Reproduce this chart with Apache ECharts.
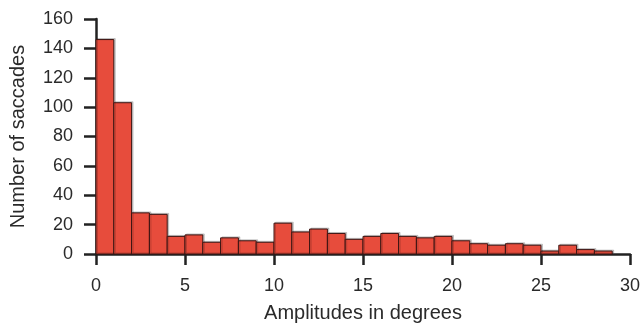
<!DOCTYPE html>
<html><head><meta charset="utf-8">
<script src="https://cdn.jsdelivr.net/npm/echarts@6/dist/echarts.min.js"></script>
<style>html,body{margin:0;padding:0;background:#fff}#c{width:644px;height:324px}</style>
</head><body><div id="c"></div>
<script>
var binStarts = [0,1,2,3,4,5,6,7,8,9,10,11,12,13,14,15,16,17,18,19,20,21,22,23,24,25,26,27,28];
var binWidth = 1;
var counts = [146,103,28,27,12,13,8,11,9,8,21,15,17,14,10,12,14,12,11,12,9,7,6,7,6,2,6,3,2];
var xTicks = [0,5,10,15,20,25,30];
var yTicks = [0,20,40,60,80,100,120,140,160];
var xTitle = 'Amplitudes in degrees';
var yTitle = 'Number of saccades';

var data = binStarts.map(function(s,i){return [s, s+binWidth, counts[i]];});
var chart = echarts.init(document.getElementById('c'));
var font = 'Liberation Sans, Arial, sans-serif';
chart.setOption({
  animation:false,
  grid:{left:96,right:14,top:19,bottom:70,containLabel:false,outerBoundsMode:'none'},
  xAxis:{type:'value',min:xTicks[0],max:xTicks[xTicks.length-1],interval:5,
    axisLine:{show:true,onZero:false,lineStyle:{color:'#222',width:2.5}},
    axisTick:{show:true,length:11,lineStyle:{color:'#222',width:2.5}},
    axisLabel:{color:'#2a2a2a',fontSize:18,fontFamily:font,margin:23},
    splitLine:{show:false},
    name:xTitle,nameLocation:'middle',nameGap:49,
    nameTextStyle:{color:'#2a2a2a',fontSize:20,fontFamily:font}},
  yAxis:{type:'value',min:yTicks[0],max:yTicks[yTicks.length-1],interval:20,
    axisLine:{show:true,lineStyle:{color:'#222',width:2.5}},
    axisTick:{show:true,length:12,lineStyle:{color:'#222',width:2.5}},
    axisLabel:{color:'#2a2a2a',fontSize:18,fontFamily:font,margin:23},
    splitLine:{show:false},
    name:yTitle,nameLocation:'middle',nameGap:68,
    nameTextStyle:{color:'#2a2a2a',fontSize:20,fontFamily:font}},
  series:[{type:'custom',data:data,
    encode:{x:[0,1],y:2},
    renderItem:function(params,api){
      var p0=api.coord([api.value(0),api.value(2)]);
      var p1=api.coord([api.value(1),0]);
      return {type:'rect',shape:{x:p0[0],y:p0[1],width:p1[0]-p0[0],height:p1[1]-p0[1]},
        style:{fill:'#E74C3C',stroke:'#3b1412',lineWidth:1,
          shadowColor:'rgba(0,0,0,0.18)',shadowOffsetX:1.5,shadowOffsetY:-1,shadowBlur:0}};
    }}]
});
</script></body></html>
